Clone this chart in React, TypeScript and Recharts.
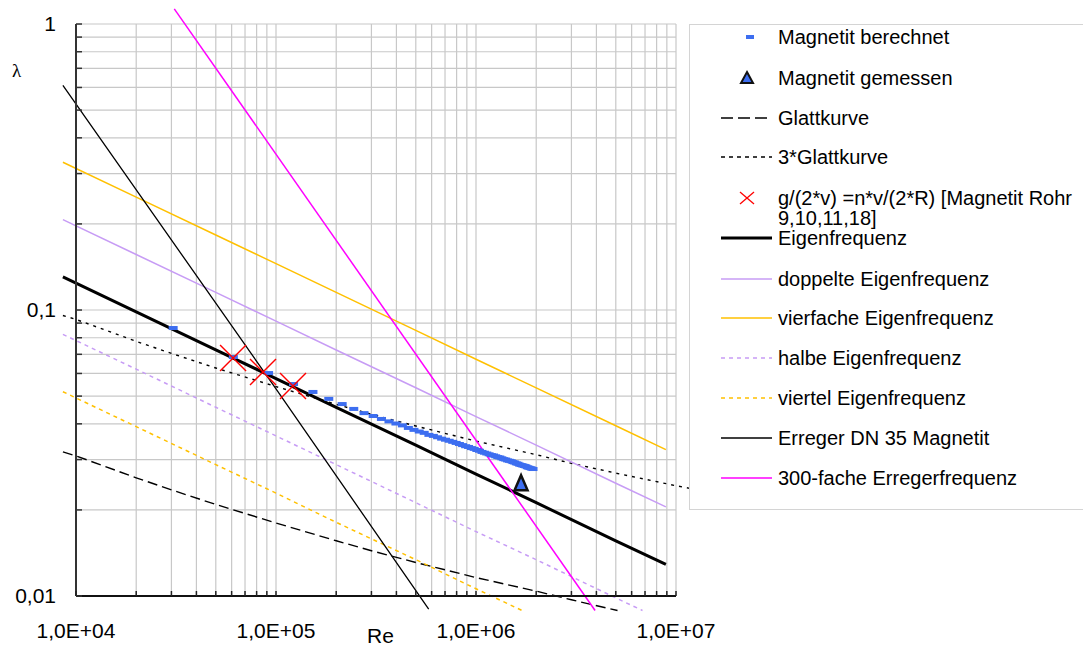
import React from 'react'
import { ComposedChart, Line, Scatter, XAxis, YAxis, ReferenceLine, ReferenceDot } from 'recharts'

// axis ticks
const reTicks = [1e4, 1e5, 1e6, 1e7]
const reTickLabels = ['1,0E+04', '1,0E+05', '1,0E+06', '1,0E+07']
const lambdaTicks = [0.01, 0.1, 1]
const lambdaTickLabels = ['0,01', '0,1', '1']

// minor grid positions
const reGrid = [
  10000, 20000, 30000, 40000, 50000, 60000, 70000, 80000, 90000,
  100000, 200000, 300000, 400000, 500000, 600000, 700000, 800000, 900000,
  1000000, 2000000, 3000000, 4000000, 5000000, 6000000, 7000000, 8000000, 9000000,
  10000000,
]
const lambdaGrid = [
  0.01, 0.02, 0.03, 0.04, 0.05, 0.06, 0.07, 0.08, 0.09,
  0.1, 0.2, 0.3, 0.4, 0.5, 0.6, 0.7, 0.8, 0.9, 1,
]

// Magnetit berechnet
const magnetitRe = [
  30600, 61200, 91800, 122400, 153000, 183600, 214200, 244800, 275400, 306000,
  336600, 367200, 397800, 428400, 459000, 489600, 520200, 550800, 581400, 612000,
  642600, 673200, 703800, 734400, 765000, 795600, 826200, 856800, 887400, 918000,
  948600, 979200, 1009800, 1040400, 1071000, 1101600, 1132200, 1162800, 1193400, 1224000,
  1254600, 1285200, 1315800, 1346400, 1377000, 1407600, 1438200, 1468800, 1499400, 1530000,
  1560600, 1591200, 1621800, 1652400, 1683000, 1713600, 1744200, 1774800, 1805400, 1836000,
  1866600, 1897200, 1927800,
]
const magnetitLambda = [
  0.0865, 0.0685, 0.0602, 0.0551, 0.0517, 0.0489, 0.0469, 0.0451, 0.0436, 0.0426,
  0.0416, 0.0408, 0.0401, 0.0395, 0.0387, 0.0381, 0.0376, 0.0372, 0.0366, 0.0363,
  0.0359, 0.0355, 0.0352, 0.0349, 0.0346, 0.0343, 0.034, 0.0337, 0.0334, 0.0332,
  0.0329, 0.0327, 0.0324, 0.0322, 0.0319, 0.0317, 0.0315, 0.0313, 0.0311, 0.031,
  0.0308, 0.0306, 0.0305, 0.0303, 0.0301, 0.03, 0.0298, 0.0297, 0.0296, 0.0294,
  0.0293, 0.0291, 0.029, 0.0288, 0.0287, 0.0286, 0.0285, 0.0284, 0.0282, 0.0281,
  0.028, 0.0279, 0.0278,
]

// Magnetit gemessen
const gemessenRe = [1680000]
const gemessenLambda = [0.0248]

// g/(2*v) = n*v/(2*R)
const crossRe = [61000, 86100, 121600]
const crossLambda = [0.0679, 0.0607, 0.0542]

// Glattkurve / 3*Glattkurve
const glattRe = [8600, 10000, 20000, 30000, 50000, 100000, 200000, 300000, 500000, 1000000, 2000000, 3000000, 5100000]
const glattLambda = [0.0319, 0.0309, 0.0259, 0.0235, 0.0209, 0.018, 0.0156, 0.0144, 0.0131, 0.0116, 0.0104, 0.0097, 0.0089]
const glatt3Re = [8600, 10000, 20000, 30000, 50000, 100000, 200000, 300000, 500000, 1000000, 2000000, 3000000, 5000000, 10000000, 11700000]
const glatt3Lambda = [0.0957, 0.0927, 0.0777, 0.0705, 0.0627, 0.054, 0.0468, 0.0432, 0.0393, 0.0348, 0.0312, 0.0291, 0.0269, 0.0243, 0.0238]

// Eigenfrequenz family
const eigenRe = [8600, 20000, 50000, 100000, 200000, 500000, 1000000, 2000000, 5000000, 8900000]
const eigenLambda = [0.1305, 0.0985, 0.0726, 0.0576, 0.0457, 0.0337, 0.0267, 0.0212, 0.0156, 0.0129]
const doppelteLambda = [0.207, 0.1564, 0.1152, 0.0914, 0.0725, 0.0535, 0.0424, 0.0337, 0.0248, 0.0205]
const vierfacheLambda = [0.3286, 0.2482, 0.183, 0.1452, 0.1152, 0.0849, 0.0673, 0.0534, 0.0394, 0.0325]
const halbeRe = [8600, 20000, 50000, 100000, 200000, 500000, 1000000, 2000000, 5000000, 6800000]
const halbeLambda = [0.0822, 0.0621, 0.0457, 0.0363, 0.0288, 0.0212, 0.0168, 0.0134, 0.00985, 0.0089]
const viertelRe = [8600, 20000, 50000, 100000, 200000, 500000, 1000000, 1700000]
const viertelLambda = [0.0518, 0.0391, 0.0288, 0.0229, 0.0181, 0.0134, 0.0106, 0.0089]

// Erreger
const erregerRe = [8600, 100000, 580000]
const erregerLambda = [0.61, 0.053, 0.009]
const erreger300Re = [31000, 3940000]
const erreger300Lambda = [1.13, 0.0089]

const zip = (xs: number[], ys: number[]) => xs.map((x, i) => ({ x, y: ys[i] }))

const BLUE = '#3d6ef0'
const LILAC = '#c79cf5'
const GOLD = '#ffc000'
const MAGENTA = '#ff00ff'
const GRID = '#c8c8c8'
const FONT = '"Liberation Sans", Arial, sans-serif'

const DashDot = (p: any) => <rect x={p.cx - 4.5} y={p.cy - 2} width={9} height={4} fill={BLUE} />
const Triangle = (p: any) => (
  <polygon
    points={`${p.cx},${p.cy - 8} ${p.cx + 6.5},${p.cy + 7} ${p.cx - 6.5},${p.cy + 7}`}
    fill={BLUE}
    stroke="#111"
    strokeWidth={2.5}
  />
)
const Cross = (p: any) => (
  <g stroke="#ff0000" strokeWidth={1.4}>
    <line x1={p.cx - 13} y1={p.cy - 13} x2={p.cx + 13} y2={p.cy + 13} />
    <line x1={p.cx - 13} y1={p.cy + 13} x2={p.cx + 13} y2={p.cy - 13} />
  </g>
)
const BottomTick = (p: any) => <line x1={p.cx} y1={p.cy} x2={p.cx} y2={p.cy - 5} stroke="#222" strokeWidth={1.5} />
const LeftTick = (p: any) => <line x1={p.cx} y1={p.cy} x2={p.cx + 6} y2={p.cy} stroke="#333" strokeWidth={1.5} />

type Entry = { label: string[]; cy: number; icon: React.ReactNode }

const lineIcon = (stroke: string, width: number, dash?: string) => (
  <line x1={0} y1={6} x2={51} y2={6} stroke={stroke} strokeWidth={width} strokeDasharray={dash} />
)

const legendEntries: Entry[] = [
  { label: ['Magnetit berechnet'], cy: 37, icon: <rect x={25} y={4} width={8} height={4} fill={BLUE} /> },
  {
    label: ['Magnetit gemessen'],
    cy: 78,
    icon: <polygon points="26,0 32,11 20,11" fill={BLUE} stroke="#111" strokeWidth={2} />,
  },
  { label: ['Glattkurve'], cy: 118, icon: lineIcon('#000', 1.5, '12 5') },
  { label: ['3*Glattkurve'], cy: 157, icon: lineIcon('#000', 1.5, '4 4') },
  {
    label: ['g/(2*v) =n*v/(2*R) [Magnetit Rohr', '9,10,11,18]'],
    cy: 198,
    icon: (
      <g stroke="#ff0000" strokeWidth={1.3}>
        <line x1={19} y1={0} x2={33} y2={12} />
        <line x1={19} y1={12} x2={33} y2={0} />
      </g>
    ),
  },
  { label: ['Eigenfrequenz'], cy: 238, icon: lineIcon('#000', 3) },
  { label: ['doppelte Eigenfrequenz'], cy: 279, icon: lineIcon(LILAC, 1.5) },
  { label: ['vierfache Eigenfrequenz'], cy: 318, icon: lineIcon(GOLD, 1.5) },
  { label: ['halbe Eigenfrequenz'], cy: 358, icon: lineIcon(LILAC, 1.5, '4 4') },
  { label: ['viertel Eigenfrequenz'], cy: 398, icon: lineIcon(GOLD, 1.5, '4 4') },
  { label: ['Erreger DN 35 Magnetit'], cy: 438, icon: lineIcon('#000', 1.3) },
  { label: ['300-fache Erregerfrequenz'], cy: 478, icon: lineIcon(MAGENTA, 1.5) },
]

function LegendBox() {
  return (
    <div
      style={{
        position: 'absolute',
        left: 689,
        top: 24,
        width: 420,
        height: 484,
        border: '1px solid #d4d4d4',
        background: '#fff',
      }}
    >
      {legendEntries.map((e) => (
        <React.Fragment key={e.label[0]}>
          <svg
            width={52}
            height={13}
            style={{ position: 'absolute', left: 721 - 690, top: e.cy - 6 - 25, overflow: 'visible' }}
          >
            {e.icon}
          </svg>
          <div
            style={{
              position: 'absolute',
              left: 778 - 690,
              top: e.cy - 10 - 25,
              fontFamily: FONT,
              fontSize: 20,
              lineHeight: '20px',
              whiteSpace: 'nowrap',
              color: '#000',
            }}
          >
            {e.label.map((l) => (
              <div key={l}>{l}</div>
            ))}
          </div>
        </React.Fragment>
      ))}
    </div>
  )
}

export default function App() {
  return (
    <div style={{ position: 'absolute', left: 0, top: 0, width: 1083, height: 651, background: '#fff' }}>
      <ComposedChart
        width={1083}
        height={651}
        margin={{ top: 8, right: 391, bottom: 7, left: 12 }}
        style={{ fontFamily: FONT }}
      >
        <XAxis
          dataKey="x"
          type="number"
          scale="log"
          domain={[8511, 12022644]}
          allowDataOverflow
          ticks={reTicks}
          interval={0}
          tickFormatter={(v: number) => reTickLabels[reTicks.indexOf(v)] ?? ''}
          axisLine={false}
          tickLine={false}
          tickSize={0}
          tickMargin={9}
          height={30}
          tick={{ fontSize: 21, fill: '#000' }}
        />
        <YAxis
          dataKey="y"
          type="number"
          scale="log"
          domain={[0.008652, 1.1376]}
          allowDataOverflow
          ticks={lambdaTicks}
          interval={0}
          tickFormatter={(v: number) => lambdaTickLabels[lambdaTicks.indexOf(v)] ?? ''}
          axisLine={false}
          tickLine={false}
          tickSize={0}
          tickMargin={6}
          width={50}
          tick={{ fontSize: 21, fill: '#000' }}
        />

        {reGrid.map((v) => (
          <ReferenceLine
            key={'vx' + v}
            segment={[{ x: v, y: 0.01 }, { x: v, y: 1 }]}
            stroke={GRID}
            strokeWidth={1.2}
          />
        ))}
        {lambdaGrid.map((v) => (
          <ReferenceLine
            key={'hy' + v}
            segment={[{ x: 1e4, y: v }, { x: 1e7, y: v }]}
            stroke={GRID}
            strokeWidth={1.2}
          />
        ))}

        <Line data={zip(glattRe, glattLambda)} dataKey="y" stroke="#000" strokeWidth={1.4} strokeDasharray="10 5" dot={false} isAnimationActive={false} />
        <Line data={zip(glatt3Re, glatt3Lambda)} dataKey="y" stroke="#000" strokeWidth={1.4} strokeDasharray="3 5" dot={false} isAnimationActive={false} />
        <Line data={zip(halbeRe, halbeLambda)} dataKey="y" stroke={LILAC} strokeWidth={1.5} strokeDasharray="4 4" dot={false} isAnimationActive={false} />
        <Line data={zip(viertelRe, viertelLambda)} dataKey="y" stroke={GOLD} strokeWidth={1.5} strokeDasharray="4 4" dot={false} isAnimationActive={false} />
        <Line data={zip(eigenRe, doppelteLambda)} dataKey="y" stroke={LILAC} strokeWidth={1.5} dot={false} isAnimationActive={false} />
        <Line data={zip(eigenRe, vierfacheLambda)} dataKey="y" stroke={GOLD} strokeWidth={1.5} dot={false} isAnimationActive={false} />
        <Line data={zip(eigenRe, eigenLambda)} dataKey="y" stroke="#000" strokeWidth={3} dot={false} isAnimationActive={false} />
        <Line data={zip(erregerRe, erregerLambda)} dataKey="y" stroke="#000" strokeWidth={1.3} dot={false} isAnimationActive={false} />
        <Line data={zip(erreger300Re, erreger300Lambda)} dataKey="y" stroke={MAGENTA} strokeWidth={1.5} dot={false} isAnimationActive={false} />

        <Scatter data={zip(magnetitRe, magnetitLambda)} dataKey="y" shape={DashDot} isAnimationActive={false} />
        <Scatter data={zip(crossRe, crossLambda)} dataKey="y" shape={Cross} isAnimationActive={false} />
        <Scatter data={zip(gemessenRe, gemessenLambda)} dataKey="y" shape={Triangle} isAnimationActive={false} />

        <ReferenceLine segment={[{ x: 1e4, y: 0.01 }, { x: 1e4, y: 1 }]} stroke="#333" strokeWidth={2} />
        <ReferenceLine segment={[{ x: 1e4, y: 0.01 }, { x: 1e7, y: 0.01 }]} stroke="#111" strokeWidth={2} />
        {reGrid.map((v) => (
          <ReferenceDot key={'tx' + v} x={v} y={0.01} shape={BottomTick} />
        ))}
        {lambdaGrid.map((v) => (
          <ReferenceDot key={'ty' + v} x={1e4} y={v} shape={LeftTick} />
        ))}
      </ComposedChart>

      <div style={{ position: 'absolute', left: 12, top: 60, fontFamily: '"Liberation Serif", serif', fontSize: 19 }}>λ</div>
      <div style={{ position: 'absolute', left: 367, top: 624, fontFamily: FONT, fontSize: 21 }}>Re</div>
      <LegendBox />
    </div>
  )
}
